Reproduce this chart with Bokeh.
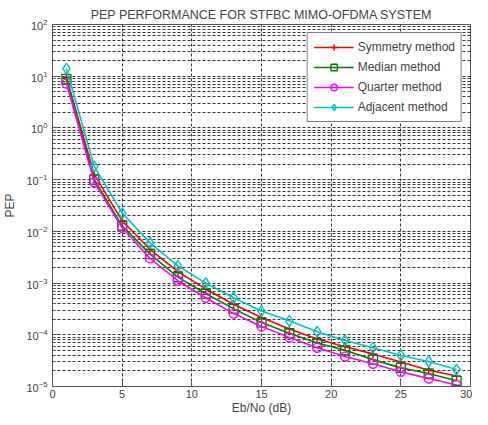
import numpy as np
from bokeh.plotting import figure
from bokeh.models import FixedTicker, Legend, LegendItem
from bokeh.embed import file_html
from bokeh.resources import INLINE

ebno = [1, 3, 5, 7, 9, 11, 13, 15, 17, 19, 21, 23, 25, 27, 29]
symmetry = [9.5, 0.125, 0.016, 0.0045, 0.00167, 0.00077, 0.00039, 0.000215, 0.000129,
            0.0000832, 0.0000589, 0.0000427, 0.0000297, 0.0000206, 0.0000159]
median = [8.9, 0.10, 0.0128, 0.00363, 0.0013, 0.00062, 0.00032, 0.000172, 0.000107,
          0.0000691, 0.0000501, 0.0000331, 0.0000229, 0.0000178, 0.0000129]
quarter = [7.2, 0.089, 0.0117, 0.0030, 0.00111, 0.00052, 0.000257, 0.000145, 0.0000891,
           0.0000562, 0.000038, 0.0000275, 0.0000192, 0.0000143, 0.0000107]
adjacent = [14.0, 0.18, 0.0226, 0.006, 0.00214, 0.001, 0.00052, 0.000288, 0.000186,
            0.000115, 0.0000776, 0.0000562, 0.0000398, 0.0000305, 0.0000213]

x_ticks = [0, 5, 10, 15, 20, 25, 30]
y_exps = [-5, -4, -3, -2, -1, 0, 1, 2]

FONT = "Liberation Sans"

p = figure(width=472, height=417, output_backend="svg", toolbar_location=None,
           y_axis_type="log", x_range=(0, 30), y_range=(1e-5, 1e2),
           min_border_left=48, min_border_right=2, min_border_top=24, min_border_bottom=26,
           title="PEP PERFORMANCE FOR STFBC MIMO-OFDMA SYSTEM")

p.title.text_font = FONT
p.title.text_font_size = "12.5px"
p.title.text_font_style = "normal"
p.title.align = "center"
p.title.offset = 0
p.title.standoff = 5

p.xaxis.ticker = FixedTicker(ticks=x_ticks)
p.yaxis.ticker = FixedTicker(ticks=[10.0 ** e for e in y_exps],
                             minor_ticks=[k * 10.0 ** e for e in y_exps[:-1] for k in range(2, 10)])

for ax in (p.xaxis[0], p.yaxis[0]):
    ax.major_tick_in = 5
    ax.major_tick_out = 0
    ax.minor_tick_in = 3
    ax.minor_tick_out = 0
    ax.major_label_text_font = FONT
    ax.major_label_text_font_size = "11px"
    ax.axis_label_text_font = FONT
    ax.axis_label_text_font_size = "12px"
    ax.axis_label_text_font_style = "normal"
    ax.axis_line_color = "#555555"
    ax.major_tick_line_color = "#555555"
    ax.minor_tick_line_color = "#555555"
p.xaxis.minor_tick_line_color = None
p.xaxis.axis_label = "Eb/No (dB)"
p.yaxis.axis_label = "PEP"
p.xaxis.axis_label_standoff = 0
p.yaxis.axis_label_standoff = 6
p.xaxis.major_label_standoff = 3
p.yaxis.major_label_standoff = 5

p.outline_line_color = "#555555"
p.outline_line_width = 1

grid_dash = "3 2"
p.xgrid.grid_line_color = "#111111"
p.xgrid.grid_line_dash = grid_dash
p.xgrid.grid_line_alpha = 0.85
p.ygrid.grid_line_color = "#111111"
p.ygrid.grid_line_dash = grid_dash
p.ygrid.grid_line_alpha = 0.85
p.ygrid.minor_grid_line_color = "#111111"
p.ygrid.minor_grid_line_dash = grid_dash
p.ygrid.minor_grid_line_alpha = 0.85

series = [
    ("Symmetry method", symmetry, "#ff0000", "cross"),
    ("Median method", median, "#008000", "square"),
    ("Quarter method", quarter, "#ff00ff", "circle"),
    ("Adjacent method", adjacent, "#00c4c4", "diamond"),
]

items = []
for name, vals, color, marker in series:
    r1 = p.line(ebno, vals, line_color=color, line_width=1.6)
    r2 = p.scatter(ebno, vals, marker=marker, size=9 if marker != "diamond" else 11,
                   line_color=color, fill_color=None, line_width=1.4)
    items.append(LegendItem(label=name, renderers=[r1, r2]))

legend = Legend(items=items, location="top_right")
legend.label_text_font = FONT
legend.label_text_font_size = "12px"
legend.glyph_width = 40
legend.glyph_height = 16
legend.spacing = 4
legend.padding = 6
legend.margin = 8
legend.label_standoff = 4
legend.border_line_color = "#000000"
legend.border_line_width = 1
legend.background_fill_alpha = 1.0
p.add_layout(legend)

open("out.html", "w").write(file_html(p, INLINE))
